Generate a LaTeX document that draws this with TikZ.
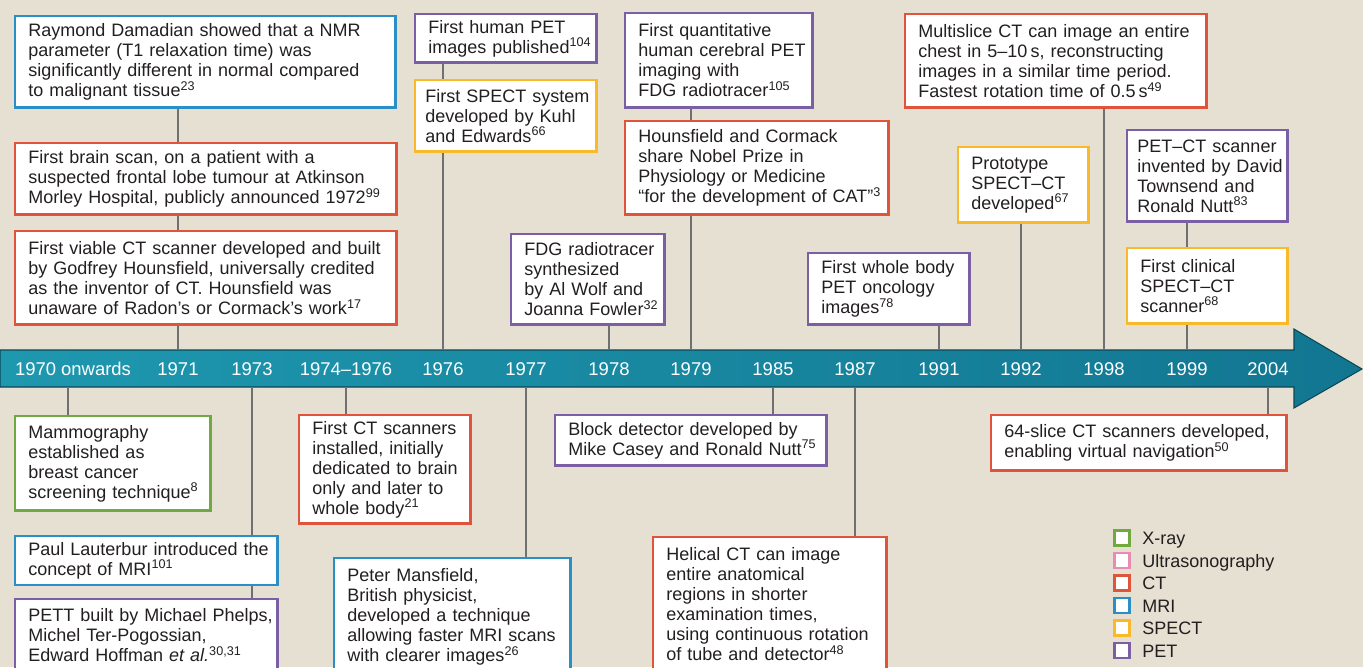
\documentclass[tikz,border=0pt]{standalone}
\usepackage{fontspec}
\setmainfont{Liberation Sans}

\definecolor{bgc}{HTML}{E5E0D1}
\definecolor{txt}{HTML}{231F20}
\definecolor{lnc}{HTML}{707070}
\definecolor{colXray}{HTML}{70AA3E}
\definecolor{colUS}{HTML}{E88CB4}
\definecolor{colCT}{HTML}{E0543C}
\definecolor{colMRI}{HTML}{2A8FC7}
\definecolor{colSPECT}{HTML}{FAB928}
\definecolor{colPET}{HTML}{7A5FA5}
\definecolor{bandL}{HTML}{1E98AF}
\definecolor{bandR}{HTML}{127691}

\newcommand\refn[1]{\textsuperscript{#1}}

\begin{document}
\begin{tikzpicture}[x=0.02cm,y=-0.02cm,font=\fontsize{10.25}{11.4}\selectfont,
  evt/.style={draw=#1,fill=white,line width=1.6pt,anchor=north west,align=left,
    inner xsep=0pt,inner ysep=0pt,text=txt,
    execute at begin node={\leftskip=0.27cm\hyphenpenalty=10000}},
  tight/.style={execute at begin node={\leftskip=0.21cm}},
  conn/.style={draw=lnc,line width=0.8pt},
  yr/.style={text=white,font=\fontsize{10.5}{12}\selectfont,inner sep=0pt,anchor=base},
  key/.style={draw=#1,fill=white,line width=1.6pt,minimum size=0.3cm,inner sep=0pt},
  keytext/.style={text=txt,inner sep=0pt,anchor=base west}]

\useasboundingbox (0,0) rectangle (1363,667);
\clip (0,0) rectangle (1363,667);
\fill[bgc] (0,0) rectangle (1363,667);

% timeline arrow
\coordinate (bandtop) at (0,350);
\coordinate (bandbot) at (0,387);
\draw[left color=bandL,right color=bandR,draw=bandR!60!black,line width=0.6pt]
  (0,350) -- (1294,350) -- (1294,329) -- (1362,369) -- (1294,408) -- (1294,387) -- (0,387) -- cycle;

\node[yr] (yr1970) at (73,375) {1970 onwards};
\node[yr] (yr1971) at (178,375) {1971};
\node[yr] (yr1973) at (252,375) {1973};
\node[yr] (yr1974) at (346,375) {1974–1976};
\node[yr] (yr1976) at (443,375) {1976};
\node[yr] (yr1977) at (526,375) {1977};
\node[yr] (yr1978) at (609,375) {1978};
\node[yr] (yr1979) at (691,375) {1979};
\node[yr] (yr1985) at (773,375) {1985};
\node[yr] (yr1987) at (855,375) {1987};
\node[yr] (yr1991) at (939,375) {1991};
\node[yr] (yr1992) at (1021,375) {1992};
\node[yr] (yr1998) at (1104,375) {1998};
\node[yr] (yr1999) at (1187,375) {1999};
\node[yr] (yr2004) at (1268,375) {2004};

% events above the line
\node[evt=colMRI,text width=7.62cm,minimum height=1.84cm] (damadian) at (13.5,14.5)
  {Raymond Damadian showed that a NMR\\parameter (T1 relaxation time) was\\significantly different in normal compared\\to malignant tissue\refn{23}};
\node[evt=colCT,text width=7.64cm,minimum height=1.44cm] (brain) at (13.5,141.5)
  {First brain scan, on a patient with a\\suspected frontal lobe tumour at Atkinson\\Morley Hospital, publicly announced 1972\refn{99}};
\node[evt=colCT,text width=7.64cm,minimum height=1.88cm] (viable) at (13.5,229.5)
  {First viable CT scanner developed and built\\by Godfrey Hounsfield, universally credited\\as the inventor of CT. Hounsfield was\\unaware of Radon's or Cormack's work\refn{17}};
\node[evt=colPET,text width=3.64cm,minimum height=0.98cm] (humanpet) at (413.5,12.5)
  {First human PET\\images published\refn{104}};
\node[evt=colSPECT,tight,text width=3.64cm,minimum height=1.44cm] (kuhl) at (413.5,78.5)
  {First SPECT system\\developed by Kuhl\\and Edwards\refn{66}};
\node[evt=colPET,text width=3.76cm,minimum height=1.9cm] (quantpet) at (623.5,11.5)
  {First quantitative\\human cerebral PET\\imaging with\\FDG radiotracer\refn{105}};
\node[evt=colCT,text width=5.28cm,minimum height=1.88cm] (nobel) at (623.5,119.5)
  {Hounsfield and Cormack\\share Nobel Prize in\\Physiology or Medicine\\“for the development of CAT”\refn{3}};
\node[evt=colPET,text width=3.08cm,minimum height=1.82cm] (fdg) at (509.5,232.5)
  {FDG radiotracer\\synthesized\\by Al Wolf and\\Joanna Fowler\refn{32}};
\node[evt=colPET,text width=3.24cm,minimum height=1.44cm] (wholebody) at (806.5,251.5)
  {First whole body\\PET oncology\\images\refn{78}};
\node[evt=colCT,text width=6.04cm,minimum height=1.88cm] (multislice) at (903.5,12.5)
  {Multislice CT can image an entire\\chest in 5–10\,s, reconstructing\\images in a similar time period.\\Fastest rotation time of 0.5\,s\refn{49}};
\node[evt=colSPECT,text width=2.62cm,minimum height=1.52cm] (protospect) at (956.5,145.5)
  {Prototype\\SPECT–CT\\developed\refn{67}};
\node[evt=colPET,tight,text width=3.22cm,minimum height=1.84cm] (petct) at (1125.5,128.5)
  {PET–CT scanner\\invented by David\\Townsend and\\Ronald Nutt\refn{83}};
\node[evt=colSPECT,text width=3.22cm,minimum height=1.52cm] (clinspect) at (1125.5,246.5)
  {First clinical\\SPECT–CT\\scanner\refn{68}};

% events below the line
\node[evt=colXray,text width=3.92cm,minimum height=1.9cm] (mammo) at (13.5,414.5)
  {Mammography\\established as\\breast cancer\\screening technique\refn{8}};
\node[evt=colMRI,text width=5.26cm,minimum height=0.98cm] (lauterbur) at (13.5,534.5)
  {Paul Lauterbur introduced the\\concept of MRI\refn{101}};
\node[evt=colPET,text width=5.26cm,minimum height=1.46cm] (pett) at (13.5,597.5)
  {PETT built by Michael Phelps,\\Michel Ter-Pogossian,\\Edward Hoffman \textit{et al.}\refn{30,31}};
\node[evt=colCT,text width=3.44cm,minimum height=2.18cm] (firstct) at (297.5,413.5)
  {First CT scanners\\installed, initially\\dedicated to brain\\only and later to\\whole body\refn{21}};
\node[evt=colMRI,text width=4.74cm,minimum height=2.36cm] (mansfield) at (332.5,556.5)
  {Peter Mansfield,\\British physicist,\\developed a technique\\allowing faster MRI scans\\with clearer images\refn{26}};
\node[evt=colPET,text width=5.44cm,minimum height=1.02cm] (block) at (553.5,413.5)
  {Block detector developed by\\Mike Casey and Ronald Nutt\refn{75}};
\node[evt=colCT,text width=4.68cm,minimum height=2.68cm] (helical) at (651.5,535.5)
  {Helical CT can image\\entire anatomical\\regions in shorter\\examination times,\\using continuous rotation\\of tube and detector\refn{48}};
\node[evt=colCT,text width=5.92cm,minimum height=1.12cm] (sixtyfour) at (989.5,413.5)
  {64-slice CT scanners developed,\\enabling virtual navigation\refn{50}};

% connectors
\draw[conn] (damadian.south -| yr1971) -- (brain.north -| yr1971);
\draw[conn] (brain.south -| yr1971) -- (viable.north -| yr1971);
\draw[conn] (viable.south -| yr1971) -- (yr1971 |- bandtop);
\draw[conn] (humanpet.south -| yr1976) -- (kuhl.north -| yr1976);
\draw[conn] (kuhl.south -| yr1976) -- (yr1976 |- bandtop);
\draw[conn] (fdg.south -| yr1978) -- (yr1978 |- bandtop);
\draw[conn] (quantpet.south -| yr1979) -- (nobel.north -| yr1979);
\draw[conn] (nobel.south -| yr1979) -- (yr1979 |- bandtop);
\draw[conn] (wholebody.south -| yr1991) -- (yr1991 |- bandtop);
\draw[conn] (protospect.south -| yr1992) -- (yr1992 |- bandtop);
\draw[conn] (multislice.south -| yr1998) -- (yr1998 |- bandtop);
\draw[conn] (petct.south -| yr1999) -- (clinspect.north -| yr1999);
\draw[conn] (clinspect.south -| yr1999) -- (yr1999 |- bandtop);

\draw[conn] ([xshift=-0.1cm]yr1970 |- bandbot) -- ([xshift=-0.1cm]yr1970 |- mammo.north);
\draw[conn] (yr1973 |- bandbot) -- (lauterbur.north -| yr1973);
\draw[conn] (lauterbur.south -| yr1973) -- (pett.north -| yr1973);
\draw[conn] (yr1974 |- bandbot) -- (firstct.north -| yr1974);
\draw[conn] (yr1977 |- bandbot) -- (mansfield.north -| yr1977);
\draw[conn] (yr1985 |- bandbot) -- (block.north -| yr1985);
\draw[conn] (yr1987 |- bandbot) -- (helical.north -| yr1987);
\draw[conn] (yr2004 |- bandbot) -- (sixtyfour.north -| yr2004);

% legend
\node[key=colXray] (kxray) at (1122,538) {};
\node[key=colUS] (kus) at (1122,560.5) {};
\node[key=colCT] (kct) at (1122,583) {};
\node[key=colMRI] (kmri) at (1122,605.5) {};
\node[key=colSPECT] (kspect) at (1122,628) {};
\node[key=colPET] (kpet) at (1122,650.5) {};
\node[keytext] (lxray) at (1142,544.5) {X-ray};
\node[keytext] (lus) at (1142,567) {Ultrasonography};
\node[keytext] (lct) at (1142,589.5) {CT};
\node[keytext] (lmri) at (1142,612) {MRI};
\node[keytext] (lspect) at (1142,634.5) {SPECT};
\node[keytext] (lpet) at (1142,657) {PET};

\end{tikzpicture}
\end{document}
